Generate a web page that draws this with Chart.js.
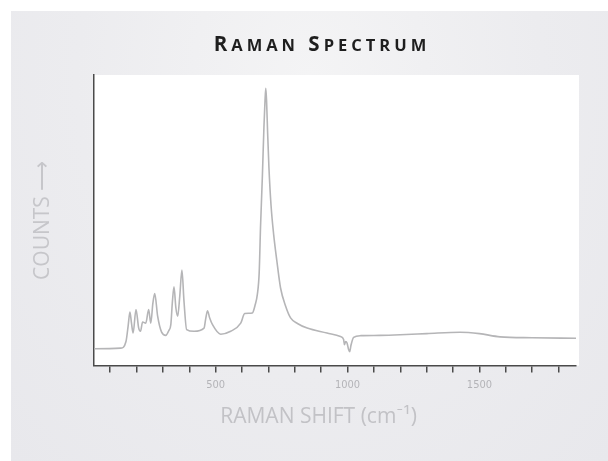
<!DOCTYPE html>
<html>
<head>
<meta charset="utf-8">
<script src="https://cdn.jsdelivr.net/npm/chart.js@4.4.1/dist/chart.umd.min.js"></script>
<style>
  body { margin: 0; background: #ffffff; }
  #panel {
    position: absolute; left: 11px; top: 11px; width: 597px; height: 450px;
    background: radial-gradient(ellipse at 50% 15%, #f4f4f5 0%, #ececef 55%, #e8e8ec 100%);
  }
  #wrap { position: absolute; left: 0; top: 0; width: 608px; height: 461px; }
  #titulo {
    position: absolute; left: 0; width: 644px; top: 29px; text-align: center;
    font-family: "Open Sans", Lato, sans-serif; font-weight: 700; font-size: 20.5px;
    color: #1e1e1e; letter-spacing: 4px;
  }
  #titulo .sc { font-size: 16.5px; }
</style>
</head>
<body>
<div id="panel"></div>
<div id="wrap"><canvas id="grafico"></canvas></div>
<div id="titulo">R<span class="sc">AMAN</span> S<span class="sc">PECTRUM</span></div>
<script>
// espectro Raman (deslocamento cm-1 / contagens relativas)
const deslocamento = [40, 140, 160, 168, 175, 181, 187, 198, 208, 215, 223, 235, 246, 254, 262, 269, 280, 295, 311, 322, 330, 336, 342, 349, 356, 364, 372, 380, 390, 418, 456, 462, 469, 477, 488, 519, 557, 595, 610, 625, 639, 650, 658, 665, 670, 677, 683, 687, 690, 693, 697, 702, 710, 720, 732, 746, 765, 784, 810, 847, 922, 973, 985, 988, 993, 998, 1004, 1008, 1013, 1023, 1050, 1124, 1200, 1300, 1427, 1500, 1578, 1700, 1866];
const contagens = [5.8, 6.0, 8.3, 13.5, 18.4, 14.5, 11.2, 19.3, 13.0, 11.8, 15.0, 14.6, 19.3, 14.6, 21.5, 24.8, 17.0, 11.5, 10.4, 12.0, 14.1, 22.0, 27.1, 20.0, 17.0, 24.0, 32.9, 22.0, 12.4, 11.8, 12.9, 16.0, 18.9, 16.5, 14.1, 10.8, 11.8, 14.6, 17.9, 18.0, 18.1, 21.0, 24.5, 32.0, 47.5, 65.0, 82.1, 91.0, 95.4, 91.0, 80.0, 68.0, 55.0, 45.0, 36.0, 26.7, 20.5, 16.4, 14.5, 12.9, 11.2, 10.0, 9.0, 7.2, 8.3, 7.8, 5.5, 4.8, 7.0, 9.7, 10.3, 10.4, 10.6, 11.0, 11.5, 11.0, 9.9, 9.6, 9.4];
const marcasX = [100, 200, 300, 400, 500, 600, 700, 800, 900, 1000, 1100, 1200, 1300, 1400, 1500, 1600, 1700, 1800];
const rotulosX = [500, 1000, 1500];

const pontos = [];
for (let i = 0; i < deslocamento.length; i++) {
  pontos.push({x: deslocamento[i], y: contagens[i]});
}

// fundo branco da area do grafico
const fundoBranco = {
  id: 'fundoBranco',
  beforeDraw(chart) {
    const {ctx, chartArea} = chart;
    ctx.save();
    ctx.fillStyle = '#ffffff';
    ctx.fillRect(chartArea.left, chartArea.top, chartArea.right - chartArea.left + 3, chartArea.bottom - chartArea.top);
    ctx.restore();
  }
};

let canvas = document.getElementById('grafico');

new Chart(canvas, {
  type: 'line',
  data: {
    datasets: [{
      label: 'Raman',
      data: pontos,
      borderColor: '#b5b5b7',
      borderWidth: 1.6,
      pointRadius: 0,
      cubicInterpolationMode: 'monotone',
      fill: false
    }]
  },
  options: {
    responsive: true,
    maintainAspectRatio: false,
    animation: false,
    layout: { padding: { top: 75, right: 32, left: 0, bottom: 0 } },
    plugins: {
      legend: { display: false },
      tooltip: { enabled: false }
    },
    scales: {
      x: {
        type: 'linear',
        min: 38,
        max: 1866,
        afterBuildTicks: (scale) => { scale.ticks = marcasX.map(v => ({value: v})); },
        grid: { drawOnChartArea: false, drawTicks: true, tickLength: 7, color: '#4a4a4a', lineWidth: 1.5 },
        border: { color: '#4a4a4a', width: 1.5 },
        ticks: {
          padding: 6,
          maxRotation: 0,
          autoSkip: false,
          color: '#b4b4b8',
          font: { family: '"Liberation Sans Narrow", "DejaVu Sans Condensed", sans-serif', size: 11 },
          callback: (v) => rotulosX.includes(v) ? String(v) : ''
        },
        title: {
          display: true,
          // espacos no fim para deslocar o titulo para a esquerda como no original
          text: 'RAMAN SHIFT (cm⁻¹)\u00a0\u00a0\u00a0\u00a0\u00a0\u00a0',
          color: '#c2c2c6',
          font: { family: '"Open Sans", Lato, sans-serif', size: 21 },
          padding: { top: 7, bottom: 31 }
        }
      },
      y: {
        min: 0,
        max: 100,
        grid: { display: false },
        border: { color: '#4a4a4a', width: 1.5 },
        ticks: { display: false },
        title: {
          display: true,
          text: 'COUNTS ⟶',
          color: '#c6c6ca',
          font: { family: '"Open Sans", Lato, sans-serif', size: 21 },
          padding: { top: 30, bottom: 30.6 }
        }
      }
    }
  },
  plugins: [fundoBranco]
});
</script>
</body>
</html>
